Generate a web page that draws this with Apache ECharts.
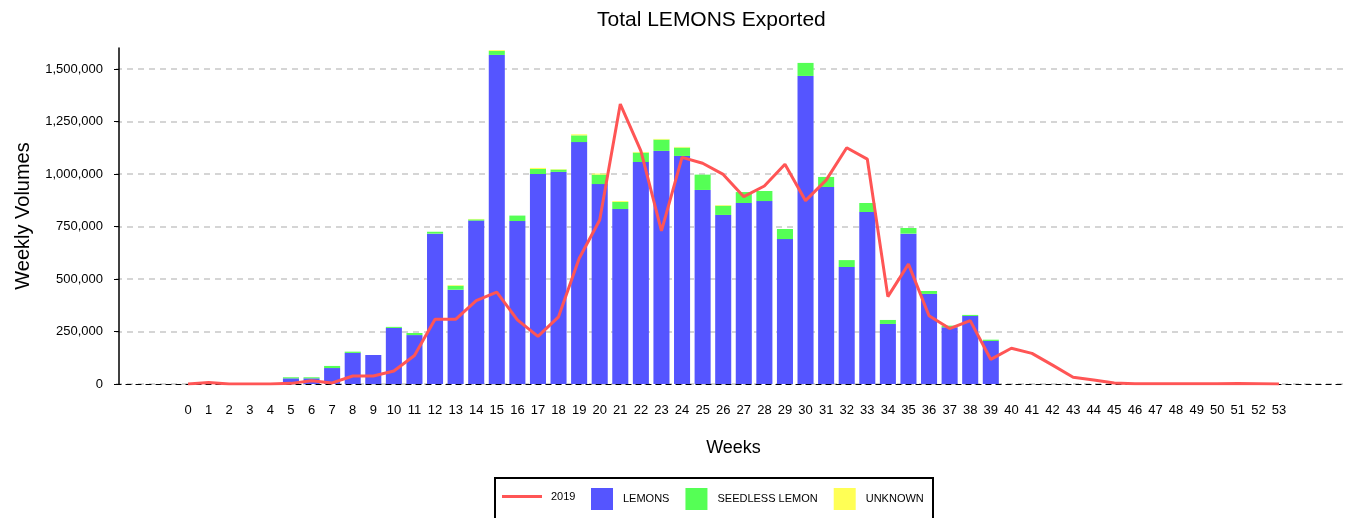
<!DOCTYPE html>
<html>
<head>
<meta charset="utf-8">
<script src="https://cdn.jsdelivr.net/npm/echarts@6/dist/echarts.min.js"></script>
<style>
html,body{margin:0;padding:0;background:#fff;overflow:hidden;width:1345px;height:518px;}
#chart{width:1352px;height:518px;}
</style>
</head>
<body>
<div id="chart"></div>
<script>
// ---- data ----
const weeks = ['0','1','2','3','4','5','6','7','8','9','10','11','12','13','14','15','16','17','18','19','20','21','22','23','24','25','26','27','28','29','30','31','32','33','34','35','36','37','38','39','40','41','42','43','44','45','46','47','48','49','50','51','52','53'];

const lemons = [0,0,0,0,0,27000,27000,76000,148000,138000,267000,233000,716000,449000,778000,1567000,776000,1000000,1010000,1152000,952000,833000,1057000,1110000,1086000,924000,805000,862000,871000,690000,1467000,938000,557000,819000,286000,716000,429000,270000,324000,205000,0,0,0,0,0,0,0,0,0,0,0,0,0,0];

const seedless = [0,0,0,0,0,5000,5000,10000,6000,0,5000,10000,9000,19000,6000,19000,26000,24000,11000,32000,45000,34000,45000,54000,40000,73000,44000,52000,48000,48000,62000,48000,33000,43000,19000,27000,14000,8000,5000,6000,0,0,0,0,0,0,0,0,0,0,0,0,0,0];

const unknown = [-3000,0,0,0,0,0,-3000,0,-3000,-3000,-3000,-3000,0,3000,2000,4000,-3000,5000,2000,5000,5000,4000,3000,3000,3000,-3000,3000,-3000,-3000,-3000,-3000,-3000,-3000,-3000,-3000,-3000,-3000,-3000,-3000,-3000,-3000,-3000,-3000,-3000,-3000,-3000,0,0,0,0,0,0,0,-3000];

const y2019 = [0,7000,0,0,0,3000,16000,5000,38000,38000,62000,136000,308000,308000,397000,437000,305000,227000,320000,598000,781000,1333000,1110000,729000,1079000,1051000,998000,892000,943000,1046000,873000,971000,1125000,1071000,416000,571000,325000,264000,302000,117000,170000,146000,90000,32000,19000,5000,1000,1000,1000,1000,1000,2000,1000,0];

const yTicks = [0,250000,500000,750000,1000000,1250000,1500000];

// ---- build ----
const PAD = 3;
const blanks = new Array(PAD).fill('');
const nulls = new Array(PAD).fill('-');
const cats = blanks.concat(weeks, blanks);
const pad = arr => nulls.concat(arr.map(v => v === 0 ? '-' : v), nulls);
const padLine = arr => nulls.concat(arr, nulls);

const FONT = '"Liberation Sans", Arial, sans-serif';
const chart = echarts.init(document.getElementById('chart'), null, {renderer: 'canvas'});
chart.setOption({
  animation: false,
  backgroundColor: '#fff',
  textStyle: {fontFamily: FONT},
  title: {
    text: 'Total LEMONS Exported',
    left: 592, top: 5,
    textStyle: {fontFamily: FONT, fontSize: 21, fontWeight: 'normal', color: '#000'}
  },
  graphic: [{
    type: 'rect', left: 494, top: 477, z: -1,
    shape: {width: 438, height: 50},
    style: {fill: '#fff', stroke: '#000', lineWidth: 2}
  }],
  legend: [{
    data: ['2019'], left: 497, top: 486, itemWidth: 40, itemHeight: 3, icon: 'rect',
    textStyle: {fontFamily: FONT, fontSize: 11, color: '#000', padding: [0,0,0,4]}
  }, {
    data: ['LEMONS','SEEDLESS LEMON','UNKNOWN'], left: 586, top: 483,
    itemWidth: 22, itemHeight: 22, itemGap: 16, icon: 'rect',
    textStyle: {fontFamily: FONT, fontSize: 11, color: '#000', padding: [0,0,0,5]}
  }],
  grid: {left: 116, top: 48, right: 1, bottom: 134, containLabel: false},
  xAxis: {
    type: 'category', data: cats,
    name: 'Weeks', nameLocation: 'middle', nameGap: 55, nameTextStyle: {fontFamily: FONT, fontSize: 18, color: '#000', padding: [0, 0, 0, 0]},
    axisLine: {lineStyle: {color: '#000', width: 1.2, type: [5,5]}},
    axisTick: {alignWithLabel: true, length: 6, lineStyle: {color: '#000'},
      interval: (i, v) => v !== ''},
    axisLabel: {interval: 0, margin: 20, fontFamily: FONT, fontSize: 13, color: '#000'},
    splitLine: {show: false}
  },
  yAxis: {
    type: 'value', min: 0, max: 1600000, interval: 250000, offset: -3,
    name: 'Weekly Volumes', nameLocation: 'middle', nameGap: 86, nameRotate: 90,
    nameTextStyle: {fontFamily: FONT, fontSize: 20, color: '#000'},
    axisLine: {show: true, lineStyle: {color: '#000', width: 1.5}},
    axisTick: {show: true, length: 5, lineStyle: {color: '#000'}, customValues: yTicks},
    axisLabel: {margin: 16, fontFamily: FONT, fontSize: 13, color: '#000', customValues: yTicks,
      formatter: v => v.toLocaleString('en-US')},
    splitLine: {show: true, lineStyle: {color: '#c8c8c8', width: 1.5, type: [6,5]}}
  },
  series: [
    {name: 'LEMONS', type: 'bar', stack: 'total', data: pad(lemons), barWidth: '78%',
      itemStyle: {color: '#5555FF'}},
    {name: 'SEEDLESS LEMON', type: 'bar', stack: 'total', data: pad(seedless),
      itemStyle: {color: '#55FF55'}},
    {name: 'UNKNOWN', type: 'bar', stack: 'total', data: pad(unknown),
      itemStyle: {color: '#FFFF55'}},
    {name: '2019', type: 'line', data: padLine(y2019), symbol: 'none', z: 5,
      lineStyle: {color: '#FF5555', width: 3}, itemStyle: {color: '#FF5555'}}
  ]
});
</script>
</body>
</html>
